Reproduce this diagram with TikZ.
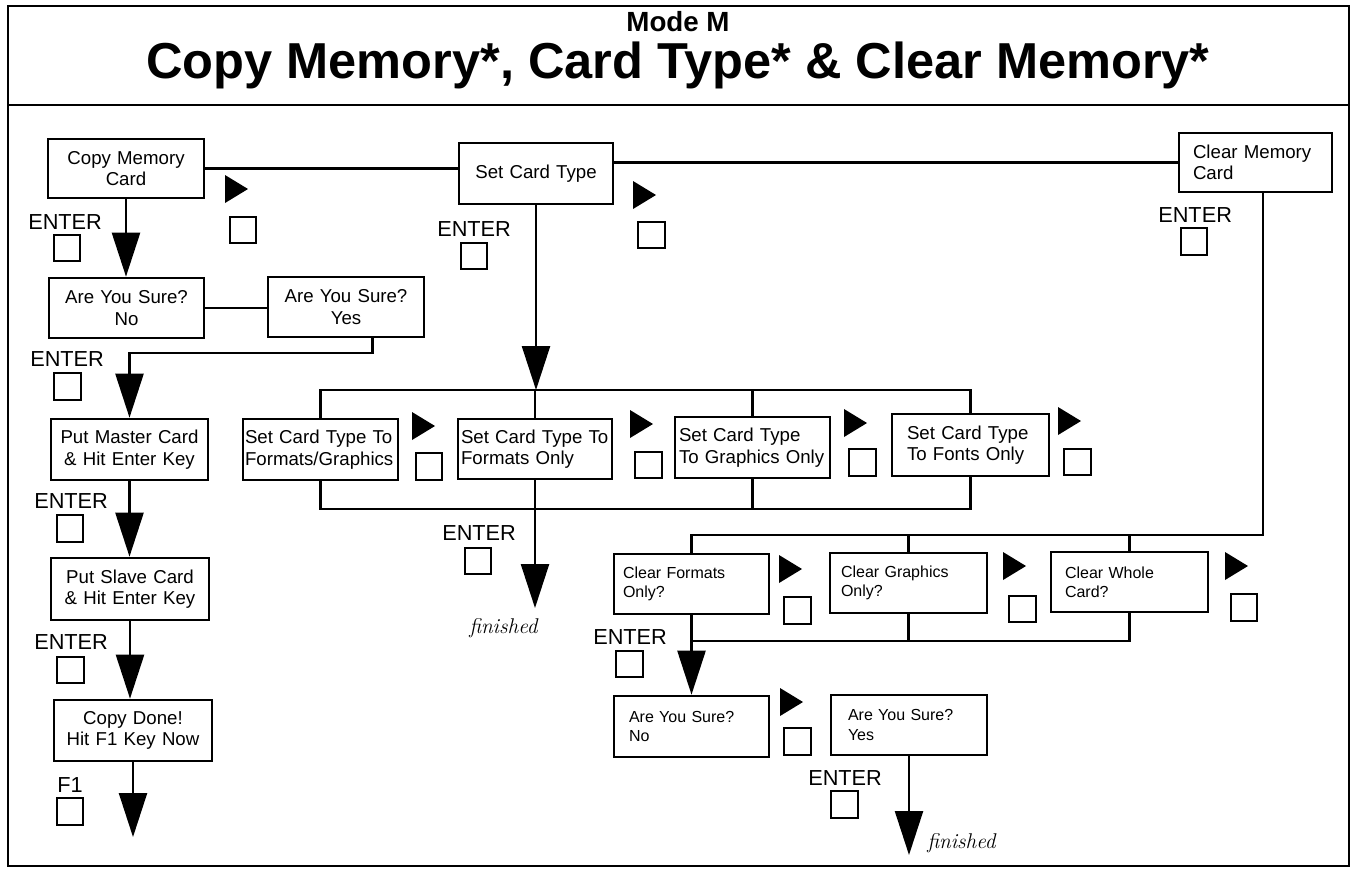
\documentclass[tikz,border=0pt]{standalone}
\usepackage{fontspec}
\newfontfamily\arial{Liberation Sans}
\usetikzlibrary{arrows.meta}
\newcommand\bx[8]{%
  \pgfmathsetmacro\bxtw{(#4-#2-2*#6)*0.75}%
  \pgfmathsetmacro\bxpd{#6*0.75}%
  \pgfmathsetmacro\bxh{(#5-#3)*0.75}%
  \node[box,#7,text width=\bxtw pt,inner xsep=\bxpd pt,minimum height=\bxh pt] (#1) at ({(#2+#4)/2},{(#3+#5)/2}) {#8};}
\newcommand\tri[2]{\fill (#1,#2) -- ++(0,28) -- ++(23,-14) -- cycle;}
\tikzset{
  box/.style={draw,line width=2pt,inner ysep=0pt},
  bigf/.style={font=\arial\fontsize{14}{16}\selectfont},
  cardf/.style={font=\arial\fontsize{14}{16}\selectfont,align=left},
  smallf/.style={font=\arial\fontsize{12}{14.5}\selectfont,align=left},
  cbox/.style={bigf,align=center},
  lbox/.style={bigf,align=left},
  ln/.style={line width=1.8pt},
  arr/.style={line width=1.8pt,-{Triangle[length=33pt,width=21pt]}},
  sq/.style={draw,line width=1.5pt,minimum size=20pt,inner sep=0pt},
  lab/.style={font=\arial\fontsize{16.3}{19}\selectfont,inner sep=0pt,anchor=west},
  fin/.style={font=\itshape\fontsize{16}{18}\selectfont,inner sep=0pt,anchor=base west}
}
\begin{document}
\begin{tikzpicture}[x=0.75pt,y=-0.75pt]
\useasboundingbox (0,0) rectangle (1358,869);
% frame and title
\draw[line width=1.5pt] (8,6) rectangle (1349,866);
\draw[line width=1.5pt] (8,105) -- (1349,105);
\node[font=\arial\bfseries\fontsize{20.8}{24}\selectfont,anchor=base,inner sep=0pt] (mode) at (678,31) {Mode M};
\node[font=\arial\bfseries\fontsize{37.9}{44}\selectfont,anchor=base,inner sep=0pt] (title) at (678,78) {Copy Memory*, Card Type* \& Clear Memory*};

% left column
\bx{cm}{48}{139}{204}{198}{4}{cbox}{Copy Memory\\Card}
\bx{no}{49}{278}{204}{338}{4}{cbox}{Are You Sure?\\No}
\bx{yes}{268}{277}{424}{337}{4}{cbox}{Are You Sure?\\Yes}
\bx{pm}{51}{419}{208}{480}{4}{cbox}{Put Master Card\\\& Hit Enter Key}
\bx{ps}{51}{558}{209}{620}{4}{cbox}{Put Slave Card\\\& Hit Enter Key}
\bx{cd}{54}{700}{212}{761}{4}{cbox}{Copy Done!\\Hit F1 Key Now}

% centre
\bx{sct}{459}{143}{613}{204}{4}{cbox}{Set Card Type}
\bx{fa}{243}{419}{398}{480}{2}{cardf}{\mbox{Set Card Type To}\\\mbox{Formats/Graphics}}
\bx{fb}{458}{419}{612}{479}{3}{cardf}{\mbox{Set Card Type To}\\\mbox{Formats Only}}
\bx{fc}{675}{417}{830}{478}{4}{cardf}{\mbox{Set Card Type}\\\mbox{To Graphics Only}}
\bx{fd}{892}{414}{1049}{476}{15}{cardf}{\mbox{Set Card Type}\\\mbox{To Fonts Only}}

% right
\bx{clr}{1179}{133}{1332}{192}{14}{lbox}{Clear Memory\\Card}
\bx{c1}{614}{554}{769}{614}{9}{smallf}{Clear Formats\\Only?}
\bx{c2}{830}{553}{987}{613}{11}{smallf}{Clear Graphics\\Only?}
\bx{c3}{1051}{552}{1208}{612}{14}{smallf}{Clear Whole\\Card?}
\bx{no2}{614}{696}{769}{757}{15}{smallf}{Are You Sure?\\No}
\bx{yes2}{831}{695}{987}{755}{17}{smallf}{Are You Sure?\\Yes}

% key labels and squares
\node[lab] (e1) at (28,222) {ENTER};
\node[sq] (s1) at (67,248) {};
\node[lab] (e2) at (437,229) {ENTER};
\node[sq] (s2) at (474,256) {};
\node[lab] (e3) at (1158,215) {ENTER};
\node[sq] (s3) at (1194,241.5) {};
\node[lab] (e4) at (30,359) {ENTER};
\node[sq] (s4) at (67.5,386.5) {};
\node[lab] (e5) at (34,501) {ENTER};
\node[sq] (s5) at (70,528.5) {};
\node[lab] (e6) at (34,642) {ENTER};
\node[sq] (s6) at (70.5,670) {};
\node[lab] (e7) at (57,785) {F1};
\node[sq] (s7) at (70,811.5) {};
\node[lab] (e8) at (442,533) {ENTER};
\node[sq] (s8) at (478,561) {};
\node[lab] (e9) at (593,637) {ENTER};
\node[sq] (s9) at (629.5,664) {};
\node[lab] (e10) at (808,778) {ENTER};
\node[sq] (s10) at (844.5,804.5) {};

% right-arrow keys
\tri{225}{175}   \node[sq] (r1) at (243,230) {};
\tri{633}{181}   \node[sq] (r2) at (651.5,235) {};
\tri{412}{412}   \node[sq] (r3) at (429,466.5) {};
\tri{630}{410}   \node[sq] (r4) at (648.5,465) {};
\tri{844}{409}   \node[sq] (r5) at (862.5,462.5) {};
\tri{1058}{407}  \node[sq] (r6) at (1077.5,462) {};
\tri{779}{555}   \node[sq] (r7) at (797.5,610.5) {};
\tri{1003}{552}  \node[sq] (r8) at (1022.5,609) {};
\tri{1225}{552}  \node[sq] (r9) at (1244,607.5) {};
\tri{780}{688}   \node[sq] (r10) at (797.5,741.5) {};

% finished
\node[fin] (f1) at (469,633) {finished};
\node[fin] (f2) at (927,848) {finished};

% connectors: top row
\draw[ln] (cm.east) -- (cm.east -| sct.west);
\draw[ln] (sct.east |- clr.west) -- (clr.west);

% left column
\draw[arr] (cm.south) -- (cm.south |- no.north);
\draw[ln] (no.east) -- (no.east -| yes.west);
\coordinate (yb) at (129.5,353);
\draw[arr] ([xshift=20pt]yes.south) |- (yb) -- (pm.north);
\draw[arr] (pm.south) -- (pm.south |- ps.north);
\draw[arr] (ps.south) -- (ps.south |- cd.north);
\coordinate (cdend) at (133,837);
\draw[arr] (cd.south) -- (cdend);

% centre
\coordinate (bt) at (535,390);
\coordinate (bb) at (535,509);
\draw[arr] (sct.south) -- (sct.south |- bt);
\draw[ln] (fa.north) -- (fa.north |- bt) -- (fd.north |- bt) -- (fd.north);
\draw[ln] (fb.north) -- (fb.north |- bt);
\draw[ln] (fc.north) -- (fc.north |- bt);
\draw[ln] (fa.south) -- (fa.south |- bb) -- (fd.south |- bb) -- (fd.south);
\draw[ln] (fb.south) -- (fb.south |- bb);
\draw[ln] (fc.south) -- (fc.south |- bb);
\coordinate (fin1) at (535,608);
\draw[arr] (fb.south |- bb) -- (fin1);

% right
\coordinate (clrb) at ([xshift=5.6pt]clr.south);
\coordinate (ct) at (0,535);
\coordinate (cbb) at (0,641);
\draw[ln] (clrb) -- (clrb |- ct) -- (c1.north |- ct) -- (c1.north);
\draw[ln] (c2.north) -- (c2.north |- ct);
\draw[ln] (c3.north) -- (c3.north |- ct);
\draw[ln] (c1.south) -- (c1.south |- cbb) -- (c3.south |- cbb) -- (c3.south);
\draw[ln] (c2.south) -- (c2.south |- cbb);
\draw[arr] (c1.south |- cbb) -- (no2.north);
\coordinate (fin2) at (909,855);
\draw[arr] (yes2.south) -- (fin2);
\end{tikzpicture}
\end{document}
